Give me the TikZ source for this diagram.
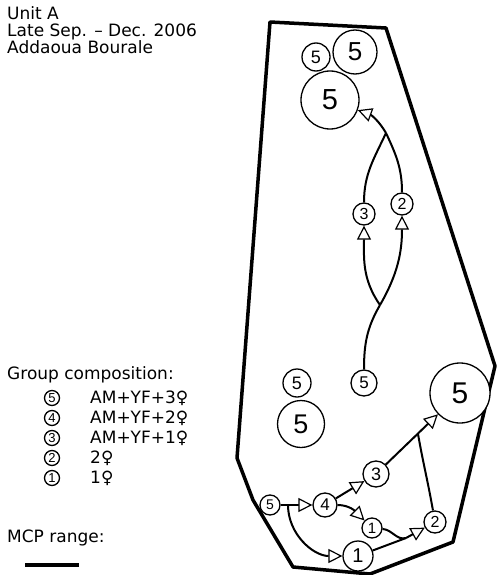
\documentclass[tikz,border=0pt]{standalone}
\usepackage{fontspec}
\setmainfont{DejaVu Sans}
\newfontfamily\numfont{Liberation Sans}
\usetikzlibrary{arrows.meta}

\begin{document}
\begin{tikzpicture}[x=1pt, y=-1pt, >={Triangle[length=14pt, width=14pt, fill=white, line width=1.2pt]}]
  \tikzstyle{group} = [draw, circle, line width=1.3pt, inner sep=0pt, fill=white]
  \tikzstyle{key} = [group, minimum size=15pt, font={\numfont\fontsize{13}{13}\selectfont}]
  \tikzstyle{move} = [black, line width=2pt]
  \tikzstyle{moveArrow} = [move, ->]
  \tikzstyle{mcp} = [line width=3.5pt, line join=round]
  \tikzstyle{legendText} = [anchor=west, inner sep=0pt, font={\fontsize{17}{17}\selectfont}]

  \useasboundingbox (0,0) rectangle (496,575);

  % MCP polygon
  \draw[mcp] (270,22) -- (386,28) -- (495,366) -- (453,542) -- (370,574)
             -- (293,567) -- (253,500) -- (237,458) -- cycle;

  % legend
  \node[legendText, anchor=north west, align=left] (title) at (7,6)
    {Unit A\\Late Sep. – Dec. 2006\\Addaoua Bourale};

  \node[legendText] (compo) at (7,375) {Group composition:};
  \node[key] (k5) at (52,398) {5};
  \node[key] (k4) at (52,418) {4};
  \node[key] (k3) at (52,438) {3};
  \node[key] (k2) at (52,458) {2};
  \node[key] (k1) at (52,478) {1};
  \node[legendText] (t5) at (90,398) {AM+YF+3♀};
  \node[legendText] (t4) at (90,418) {AM+YF+2♀};
  \node[legendText] (t3) at (90,438) {AM+YF+1♀};
  \node[legendText] (t2) at (90,458) {2♀};
  \node[legendText] (t1) at (90,478) {1♀};

  \node[legendText] (range) at (7,538) {MCP range:};
  \coordinate (barL) at (25,565);
  \coordinate (barR) at (79,565);
  \draw[mcp] (barL) -- (barR);

  % groups
  \node[group, minimum size=28pt, font={\numfont\fontsize{18}{18}\selectfont}] (t5a) at (316,57) {5};
  \node[group, minimum size=44pt, font={\numfont\fontsize{26}{26}\selectfont}] (t5b) at (355,52) {5};
  \node[group, minimum size=58pt, font={\numfont\fontsize{29}{29}\selectfont}] (tbig) at (330,100) {5};
  \node[group, minimum size=22pt, font={\numfont\fontsize{16}{16}\selectfont}] (m3) at (364,214) {3};
  \node[group, minimum size=22pt, font={\numfont\fontsize{16}{16}\selectfont}] (m2) at (402,204) {2};
  \node[group, minimum size=26pt, font={\numfont\fontsize{17}{17}\selectfont}] (m5) at (364,383) {5};
  \node[group, minimum size=28pt, font={\numfont\fontsize{18}{18}\selectfont}] (l5a) at (297,383) {5};
  \node[group, minimum size=47pt, font={\numfont\fontsize{27}{27}\selectfont}] (l5b) at (301,424) {5};
  \node[group, minimum size=60pt, font={\numfont\fontsize{30}{30}\selectfont}] (r5) at (460,393) {5};
  \node[group, minimum size=20pt, font={\numfont\fontsize{14}{14}\selectfont}] (b5) at (270,505) {5};
  \node[group, minimum size=24pt, font={\numfont\fontsize{17}{17}\selectfont}] (b4) at (325,505) {4};
  \node[group, minimum size=26pt, font={\numfont\fontsize{18}{18}\selectfont}] (b3) at (376,474) {3};
  \node[group, minimum size=20pt, font={\numfont\fontsize{15}{15}\selectfont}] (b1s) at (372,528) {1};
  \node[group, minimum size=22pt, font={\numfont\fontsize{16}{16}\selectfont}] (b2) at (435,522) {2};
  \node[group, minimum size=30pt, font={\numfont\fontsize{20}{20}\selectfont}] (b1b) at (358,556) {1};

  % movements
  \coordinate (split) at (288,505);
  \coordinate (meet)  at (406,538);
  \coordinate (join)  at (418,434);
  \coordinate (fork)  at (380,305);
  \coordinate (top)   at (386,133);

  \path (b5) edge[moveArrow] (b4)
        (split) edge[moveArrow, out=-90, in=180] (b1b)
        (b4) edge[moveArrow] (b3)
        (b4) edge[moveArrow, out=0, in=135] (b1s)
        (b1s) edge[move, out=-5, in=195] (meet)
        (b1b) edge[move] (meet)
        (meet) edge[moveArrow] (b2)
        (b3) edge[moveArrow] (r5)
        (b2) edge[move, out=100, in=-80] (join)
        (m5) edge[move, out=90, in=-120] (fork)
        (fork) edge[moveArrow, out=125, in=-90] (m3)
        (fork) edge[moveArrow, out=60, in=-90] (m2)
        (m3) edge[move, out=90, in=-115] (top)
        (m2) edge[move, out=90, in=-65] (top)
        (top) edge[moveArrow, out=120, in=-20] (tbig);
\end{tikzpicture}
\end{document}
